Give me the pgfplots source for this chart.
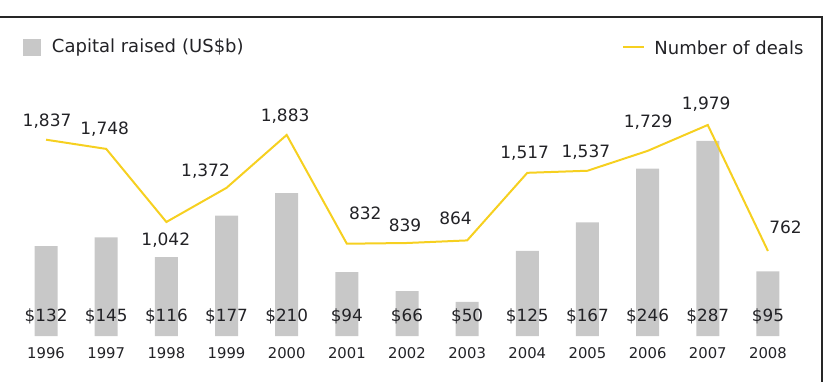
\documentclass[border=0pt]{standalone}
\usepackage{pgfplots}
\pgfplotsset{compat=1.18}
\usepackage{pgfplotstable}
\usepackage{fontspec}
\setmainfont{DejaVu Sans}

\definecolor{bargray}{RGB}{200,200,200}
\definecolor{dealyellow}{RGB}{246,208,32}
\definecolor{txt}{RGB}{34,34,38}

% idx, year, capital raised (US$b), number of deals, label offsets (pt)
\pgfplotstableread{
idx year cap deals dx dy
0 1996 132 1837 0.5 9.2
1 1997 145 1748 -0.8 10
2 1998 116 1042 -0.3 -9.2
3 1999 177 1372 -10.5 8.3
4 2000 210 1883 -0.8 9.3
5 2001 94 832 9.2 15
6 2002 66 839 -1 8.8
7 2003 50 864 -5.8 10.8
8 2004 125 1517 -1.3 10
9 2005 167 1537 -0.8 9.3
10 2006 246 1729 0.3 14.2
11 2007 287 1979 -0.8 10.5
12 2008 95 762 8.8 11.7
}\data

\pgfplotsset{
  base/.style={
    scale only axis, width=391pt, height=118pt,
    at={(8pt,23pt)}, anchor=south west,
    xmin=-0.5, xmax=12.5,
    axis line style={draw=none},
    major tick length=0pt,
    ytick=\empty,
    clip=false,
    /pgf/number format/assume math mode=true,
    /pgf/number format/.cd, fixed, precision=0, 1000 sep={,},
  },
}

\begin{document}
\begin{tikzpicture}[font=\color{txt}]
\path[use as bounding box] (0,0) rectangle (413pt,191pt);

% capital raised
\begin{axis}[base,
  ymin=0, ymax=347,
  xtick=data,
  xticklabels from table={\data}{year},
  xticklabel style={anchor=center, yshift=-8.6pt, text=txt, font=\fontsize{7.4}{8}\selectfont},
]
\addplot[ybar, bar width=11.5pt, bar shift=0pt, fill=bargray, draw=none]
  table[x=idx, y=cap] {\data};
\addplot[draw=none, mark=none, point meta=explicit,
  nodes near coords={\$\pgfmathprintnumber{\pgfplotspointmeta}},
  every node near coord/.style={anchor=center, yshift=10pt, text=txt,
    font=\fontsize{8.4}{9}\selectfont},
] table[x=idx, y expr=0, meta=cap] {\data};
\end{axis}

% number of deals
\begin{axis}[base,
  ymin=-59.6, ymax=2220.5,
  xtick=\empty,
]
\addplot[dealyellow, line width=1pt, mark=none, point meta=explicit,
  visualization depends on={\thisrow{dx} \as \dx},
  visualization depends on={\thisrow{dy} \as \dy},
  nodes near coords={\pgfmathprintnumber{\pgfplotspointmeta}},
  every node near coord/.style={anchor=center, xshift={\dx*1pt}, yshift={\dy*1pt},
    text=txt, font=\fontsize{8.5}{9}\selectfont},
] table[x=idx, y=deals, meta=deals] {\data};
\end{axis}

% legend
\fill[bargray] (11.5pt,163pt) rectangle (20.5pt,171.5pt);
\node[anchor=west, inner sep=0pt, text=txt, font=\fontsize{9}{10}\selectfont]
  at (25.8pt,167.3pt) {Capital raised\,\,(US\$b)};
\draw[dealyellow, line width=1pt] (311.5pt,167.6pt) -- (322pt,167.6pt);
\node[anchor=west, inner sep=0pt, text=txt, font=\fontsize{9}{10}\selectfont]
  at (327pt,167.3pt) {Number of deals};

% frame
\draw[black!85, line width=0.65pt] (0pt,182.5pt) -- (411pt,182.5pt) -- (411pt,0pt);
\end{tikzpicture}
\end{document}
